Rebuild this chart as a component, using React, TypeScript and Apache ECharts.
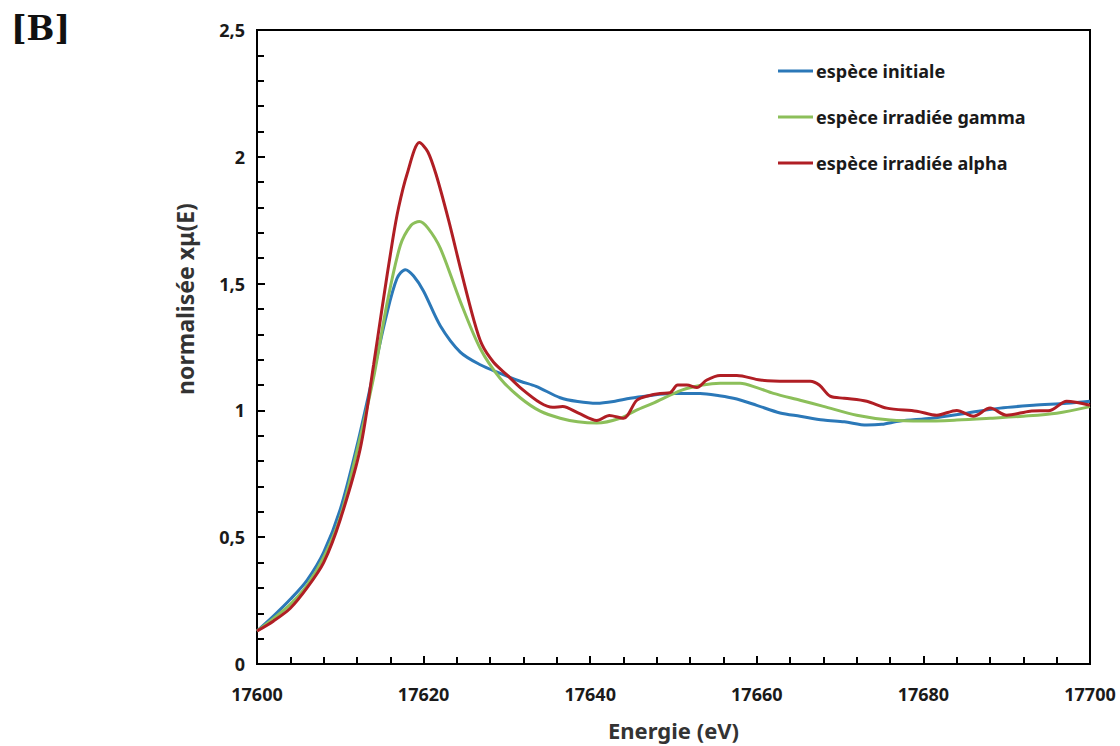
import React, { useEffect, useRef } from "react";
import * as echarts from "echarts";

const seriesNames = ["espèce initiale", "espèce irradiée gamma", "espèce irradiée alpha"];
const seriesColors = ["#2B78B8", "#8CBF5A", "#B01E24"];

const initiale: [number, number][] = [
  [17600, 0.13], [17602, 0.19], [17604, 0.255], [17606, 0.33], [17608, 0.44], [17610, 0.61],
  [17612, 0.86], [17614, 1.15], [17615.5, 1.37], [17616.8, 1.52], [17617.8, 1.555], [17618.8, 1.53],
  [17620, 1.47], [17622, 1.334], [17624.4, 1.23], [17626.8, 1.18], [17629.2, 1.146], [17631.6, 1.115],
  [17633.5, 1.095], [17636.4, 1.05], [17638.5, 1.035], [17640.8, 1.028], [17642.8, 1.035], [17644.8, 1.048],
  [17647, 1.058], [17649.6, 1.067], [17653.2, 1.067], [17655.5, 1.058], [17657.6, 1.045], [17660, 1.02],
  [17662.8, 0.99], [17665.2, 0.977], [17668, 0.962], [17670.5, 0.955], [17673.2, 0.942], [17675, 0.945],
  [17677.2, 0.958], [17681, 0.969], [17685.2, 0.989], [17689.2, 1.009], [17693.2, 1.02], [17697.2, 1.028],
  [17700, 1.036],
];

const gamma: [number, number][] = [
  [17600, 0.13], [17602, 0.18], [17604, 0.235], [17606, 0.31], [17608, 0.42], [17610, 0.58],
  [17612, 0.84], [17614, 1.13], [17615.6, 1.42], [17617.2, 1.65], [17618.5, 1.73], [17619.5, 1.745],
  [17620.5, 1.72], [17622, 1.64], [17624.4, 1.43], [17626.8, 1.244], [17629.2, 1.126], [17631.6, 1.05],
  [17634, 0.997], [17636.4, 0.969], [17638.5, 0.955], [17640.8, 0.95], [17643.6, 0.969], [17645.5, 1.0],
  [17647.5, 1.028], [17651, 1.08], [17653.5, 1.1], [17655.6, 1.107], [17658, 1.107], [17660, 1.09],
  [17662, 1.067], [17665.2, 1.04], [17668, 1.016], [17672, 0.981], [17676, 0.962], [17680, 0.958],
  [17684, 0.962], [17688, 0.969], [17692, 0.977], [17696, 0.989], [17700, 1.015],
];

const alpha: [number, number][] = [
  [17600, 0.13], [17602, 0.17], [17604, 0.22], [17606, 0.3], [17608, 0.4], [17610, 0.57],
  [17612.4, 0.85], [17614, 1.18], [17615, 1.4], [17616.3, 1.675], [17617, 1.8], [17618, 1.93],
  [17619.5, 2.056], [17620.5, 2.02], [17621.5, 1.93], [17623, 1.75], [17624.5, 1.55], [17626, 1.36],
  [17627, 1.26], [17628.4, 1.19], [17630, 1.14], [17631.6, 1.09], [17634, 1.03], [17635.5, 1.012],
  [17636.7, 1.015], [17638.6, 0.989], [17640.8, 0.96], [17642.3, 0.98], [17644, 0.969], [17645.6, 1.04],
  [17647, 1.058], [17648.4, 1.067], [17649.6, 1.07], [17650.5, 1.1], [17651.6, 1.1], [17652.8, 1.09],
  [17654, 1.12], [17655.6, 1.138], [17657.6, 1.138], [17660.4, 1.12], [17663.6, 1.115], [17666.4, 1.115],
  [17667.5, 1.1], [17668.8, 1.056], [17670.5, 1.048], [17673.2, 1.036], [17675.6, 1.009], [17679.2, 0.997],
  [17681.6, 0.981], [17684, 1.0], [17686, 0.977], [17688, 1.009], [17690, 0.981], [17692.8, 0.997],
  [17695.2, 1.0], [17697.2, 1.036], [17700, 1.02],
];

const xMin = 17600;
const xMax = 17700;
const xStep = 20;
const yMin = 0;
const yMax = 2.5;
const yStep = 0.5;

const FONT = "Noto Sans";

export default function App() {
  const ref = useRef<HTMLDivElement>(null);
  useEffect(() => {
    if (!ref.current) return;
    const chart = echarts.init(ref.current, null, { renderer: "svg" });
    const fmtY = (v: number) => String(v).replace(".", ",");
    const fmtX = (v: number) => String(Math.round(v));
    const lists = [initiale, gamma, alpha];
    chart.setOption({
      animation: false,
      backgroundColor: "#fff",
      grid: {
        left: 257, right: 30, top: 30, bottom: 79,
        show: true, borderColor: "#000", borderWidth: 2, backgroundColor: "transparent",
      },
      legend: {
        orient: "vertical",
        left: 773,
        top: 57,
        itemWidth: 35,
        itemHeight: 3,
        itemGap: 28,
        icon: "rect",
        data: seriesNames,
        textStyle: { fontFamily: FONT, fontWeight: "bold", fontSize: 18, color: "#1a1a1a", padding: [0, 0, 0, -2] },
      },
      xAxis: {
        type: "value", min: xMin, max: xMax, interval: xStep,
        axisLine: { show: true, lineStyle: { color: "#000", width: 2 } },
        axisTick: { show: true, inside: true, length: 8, lineStyle: { color: "#000", width: 2 } },
        minorTick: { show: true, splitNumber: 5, length: 7, lineStyle: { color: "#000", width: 2 } },
        splitLine: { show: false },
        axisLabel: { show: true, margin: 21, formatter: fmtX, fontFamily: FONT, fontWeight: "bold", fontSize: 18, color: "#1a1a1a" },
        name: "Energie (eV)", nameLocation: "middle", nameGap: 55,
        nameTextStyle: { fontFamily: FONT, fontWeight: "bold", fontSize: 22, color: "#333" },
      },
      yAxis: {
        type: "value", min: yMin, max: yMax, interval: yStep,
        axisLine: { show: true, lineStyle: { color: "#000", width: 2 } },
        axisTick: { show: true, inside: true, length: 8, lineStyle: { color: "#000", width: 2 } },
        minorTick: { show: true, splitNumber: 5, length: 7, lineStyle: { color: "#000", width: 2 } },
        splitLine: { show: false },
        axisLabel: { show: true, margin: 12, formatter: fmtY, fontFamily: FONT, fontWeight: "bold", fontSize: 18, color: "#1a1a1a" },
      },
      graphic: [
        {
          type: "text", left: 11, top: 12,
          style: { text: "[B]", font: "bold 33px 'DejaVu Serif', serif", fill: "#111" },
        },
        {
          type: "text", x: 185, y: 299, rotation: Math.PI / 2,
          style: {
            text: "normalisée xμ(E)", fontFamily: FONT, fontWeight: "bold", fontSize: 23,
            fill: "#333", align: "center", verticalAlign: "middle",
          },
        },
      ],
      series: lists.map((d, i) => ({
        name: seriesNames[i],
        type: "line",
        data: d,
        smooth: 0.3,
        showSymbol: false,
        symbol: "none",
        lineStyle: { color: seriesColors[i], width: 3 },
        itemStyle: { color: seriesColors[i] },
      })),
    });
    return () => chart.dispose();
  }, []);
  return <div ref={ref} style={{ position: "fixed", left: 0, top: 0, width: 1120, height: 746 }} />;
}
